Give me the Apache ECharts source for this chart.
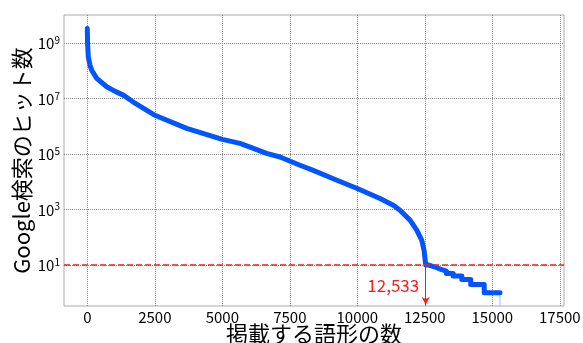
<!DOCTYPE html>
<html><head><meta charset="utf-8">
<script src="https://cdn.jsdelivr.net/npm/echarts@6/dist/echarts.min.js"></script>
<style>html,body{margin:0;padding:0;background:#fff}#c{width:583px;height:343px}</style>
</head><body><div id="c"></div>
<script>
// main curve (rank -> Google hit count)
const ranks = [0, 10, 37, 100, 163, 348, 719, 1050, 1333, 1704, 2481, 3681, 5000, 5655, 6644, 7137, 7878, 8370, 9200, 10000, 10841, 11333, 11581, 11952, 12200, 12385, 12470, 12507, 12533];
const hits = [3.4e9, 1.0e9, 3.2e8, 1.6e8, 1.07e8, 5.4e7, 2.7e7, 1.8e7, 1.35e7, 7.6e6, 2.6e6, 8.5e5, 3.4e5, 2.45e5, 1.07e5, 7.9e4, 4.0e4, 2.6e4, 1.2e4, 5.8e3, 2.5e3, 1.45e3, 955, 417, 182, 79, 35, 17, 10];
// tail: small hit counts (steps)
const tailRanks = [12650, 12650, 12800, 12800, 12950, 12950, 13100, 13100, 13300, 13300, 13550, 13550, 13870, 13870, 14200, 14200, 14700, 14700, 15285];
const tailHits  = [10, 9, 9, 8, 8, 7, 7, 6, 6, 5, 5, 4, 4, 3, 3, 2, 2, 1, 1];
const dropRanks = [15285, 15285];
const dropHits = [1, 0.01];
const xTicks = [0, 2500, 5000, 7500, 10000, 12500, 15000, 17500];
const yTicks = [10, 1e3, 1e5, 1e7, 1e9];
const threshold = 10;
const cutoffRank = 12533;
const cutoffLabel = '12,533';
const xName = '掲載する語形の数';
const yName = 'Google検索のヒット数';

const FONT = 'Noto Sans CJK JP';
const mainData = ranks.map((r, i) => [r, hits[i]]).concat(tailRanks.map((r, i) => [r, tailHits[i]]));
const dropData = dropRanks.map((r, i) => [r, dropHits[i]]);

const chart = echarts.init(document.getElementById('c'), null, {renderer: 'canvas'});
chart.setOption({
  animation: false,
  backgroundColor: '#fff',
  grid: {left: 64, right: 19, top: 15, bottom: 37, show: true, borderColor: '#aaaaaa', borderWidth: 1, containLabel: false, outerBoundsMode: 'none'},
  xAxis: {
    type: 'value', min: -863, max: 17655,
    name: xName, nameLocation: 'middle', nameGap: 17, nameMoveOverlap: false,
    nameTextStyle: {fontFamily: FONT, fontSize: 22, color: '#000'},
    axisLine: {show: false},
    axisTick: {show: false, customValues: xTicks},
    axisLabel: {customValues: xTicks, formatter: v => String(v), fontFamily: FONT, fontSize: 15, color: '#000', margin: 4},
    splitLine: {show: true, lineStyle: {color: '#888', type: 'dotted', width: 1}}
  },
  yAxis: {
    type: 'log', logBase: 10, min: Math.pow(10, -0.477), max: Math.pow(10, 10.02),
    name: yName, nameLocation: 'middle', nameGap: 31, nameMoveOverlap: false,
    nameTextStyle: {fontFamily: FONT, fontSize: 22, color: '#000'},
    axisLine: {show: false},
    axisTick: {show: false, customValues: yTicks},
    axisLabel: {
      customValues: yTicks, margin: 4,
      formatter: v => '{b|10}{s|' + Math.round(Math.log10(v)) + '}',
      rich: {
        b: {fontFamily: FONT, fontSize: 15, lineHeight: 16, color: '#000', verticalAlign: 'bottom'},
        s: {fontFamily: FONT, fontSize: 10, lineHeight: 10, color: '#000', verticalAlign: 'top'}
      }
    },
    splitLine: {show: true, lineStyle: {color: '#888', type: 'dotted', width: 1}}
  },
  series: [
    {
      type: 'line', data: dropData, showSymbol: false, silent: true,
      lineStyle: {color: '#9dbcff', width: 1}, z: 1
    },
    {
      type: 'line', data: mainData, showSymbol: false, silent: true,
      lineStyle: {color: '#0055ff', width: 5, cap: 'round', join: 'round'}, z: 2,
      markLine: {
        silent: true, animation: false, symbol: 'none',
        label: {show: false},
        data: [
          {yAxis: threshold, lineStyle: {color: '#ff1a1a', type: [6, 3], width: 1.5}},
          [{coord: [cutoffRank, threshold], symbol: 'none'}, {coord: [cutoffRank, 0.36], symbol: 'arrow', symbolSize: [6, 8], lineStyle: {color: '#ff1a1a', type: 'solid', width: 1}}]
        ]
      },
      markPoint: {
        silent: true, animation: false,
        data: [{coord: [cutoffRank, 1.9], symbol: 'circle', symbolSize: 1, itemStyle: {color: 'rgba(0,0,0,0)'},
          label: {show: true, position: 'left', distance: 6, formatter: cutoffLabel, color: '#ff1a1a', fontFamily: FONT, fontSize: 17}}]
      }
    }
  ]
});
</script></body></html>
